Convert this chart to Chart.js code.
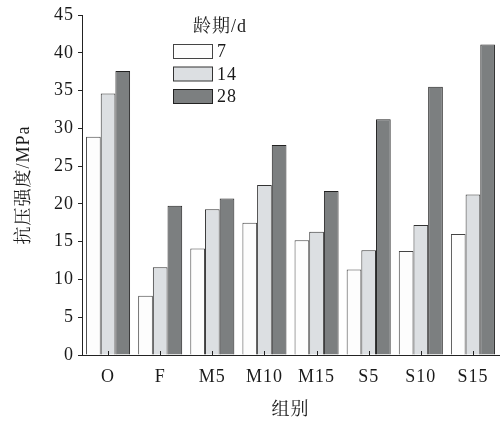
<!DOCTYPE html>
<html>
<head>
<meta charset="utf-8">
<script src="https://cdn.jsdelivr.net/npm/chart.js@4"></script>
<style>
  html, body { margin: 0; padding: 0; background: #fff; }
  #wrap { width: 502px; height: 424px; }
</style>
</head>
<body>
<div id="wrap"><canvas id="chart" width="502" height="424"></canvas></div>
<script>
const groups = ['O', 'F', 'M5', 'M10', 'M15', 'S5', 'S10', 'S15'];
const ages = ['7', '14', '28'];
const day7 = [28.9, 7.85, 14.1, 17.5, 15.2, 11.3, 13.75, 16.0];
const day14 = [34.6, 11.6, 19.3, 22.5, 16.3, 13.85, 17.2, 21.25];
const day28 = [37.6, 19.75, 20.7, 27.8, 21.7, 31.2, 35.5, 41.1];
const yTicks = [0, 5, 10, 15, 20, 25, 30, 35, 40, 45];

const FONT = "'Liberation Serif', 'Noto Serif CJK SC', 'Noto Sans CJK SC', serif";
const fills = ['#fdfdfd', '#dcdfe2', '#7c7f80'];
const edges = ['#444', '#333', '#222'];

// the reference text is set a bit loose
const spacing = {
    id: 'spacing',
    beforeInit(chart) { chart.ctx.letterSpacing = '1px'; },
    beforeDraw(chart) { chart.ctx.letterSpacing = '1px'; }
};

// little legend box in the upper left of the plot
const boxLegend = {
    id: 'boxLegend',
    afterDraw(chart) {
        const ctx = chart.ctx;
        ctx.save();
        ctx.fillStyle = '#1a1a1a';
        ctx.textBaseline = 'middle';
        ctx.textAlign = 'left';
        ctx.font = '18px ' + FONT;
        ctx.fillText('龄期/d', 193, 27);
        chart.data.datasets.forEach((ds, i) => {
            const y = 44.5 + i * 22.5;
            ctx.fillStyle = ds.backgroundColor;
            ctx.fillRect(173.5, y, 39, 14);
            ctx.strokeStyle = ds.borderColor;
            ctx.lineWidth = 1;
            ctx.strokeRect(173.5, y, 39, 14);
            ctx.fillStyle = '#1a1a1a';
            ctx.fillText(ds.label, 217, y + 8);
        });
        ctx.restore();
    }
};

// short tick marks pointing up into the plot at each group
const innerTicks = {
    id: 'innerTicks',
    afterDatasetsDraw(chart) {
        const x = chart.scales.x;
        const ctx = chart.ctx;
        ctx.save();
        ctx.strokeStyle = '#222';
        ctx.lineWidth = 1;
        x.ticks.forEach((t, i) => {
            const px = Math.round(x.getPixelForTick(i)) + 0.5;
            ctx.beginPath();
            ctx.moveTo(px, x.top);
            ctx.lineTo(px, x.top - 4);
            ctx.stroke();
        });
        ctx.restore();
    }
};

const series = [day7, day14, day28];

new Chart(document.getElementById('chart'), {
    type: 'bar',
    data: {
        labels: groups,
        datasets: ages.map((a, i) => ({
            label: a,
            data: series[i],
            backgroundColor: fills[i],
            borderColor: edges[i],
            borderWidth: 1,
            barPercentage: 1.0,
            categoryPercentage: 0.845
        }))
    },
    options: {
        responsive: false,
        animation: false,
        layout: { padding: { top: 15, right: 3, left: 0, bottom: 0 } },
        plugins: {
            legend: { display: false },
            tooltip: { enabled: false }
        },
        scales: {
            x: {
                grid: { display: false, drawTicks: false },
                border: { display: true, color: '#222', width: 1 },
                ticks: {
                    color: '#1a1a1a',
                    padding: 11,
                    font: { family: FONT, size: 18 },
                    maxRotation: 0
                },
                title: {
                    display: true,
                    text: '组别',
                    color: '#1a1a1a',
                    font: { family: FONT, size: 18 },
                    padding: { top: 0, bottom: 3 }
                },
                afterFit(scale) { scale.height = 69; }
            },
            y: {
                min: 0,
                max: 45,
                afterBuildTicks(scale) { scale.ticks = yTicks.map(v => ({ value: v })); },
                grid: {
                    drawOnChartArea: false,
                    drawTicks: true,
                    tickLength: 4,
                    color: '#222'
                },
                border: { display: true, color: '#222', width: 1 },
                ticks: {
                    color: '#1a1a1a',
                    padding: 4,
                    font: { family: FONT, size: 18 }
                },
                title: {
                    display: true,
                    text: '抗压强度/MPa',
                    color: '#1a1a1a',
                    font: { family: FONT, size: 18 },
                    padding: { top: 13, bottom: 0 }
                },
                afterFit(scale) { scale.width = 82; }
            }
        }
    },
    plugins: [spacing, boxLegend, innerTicks]
});
</script>
</body>
</html>
